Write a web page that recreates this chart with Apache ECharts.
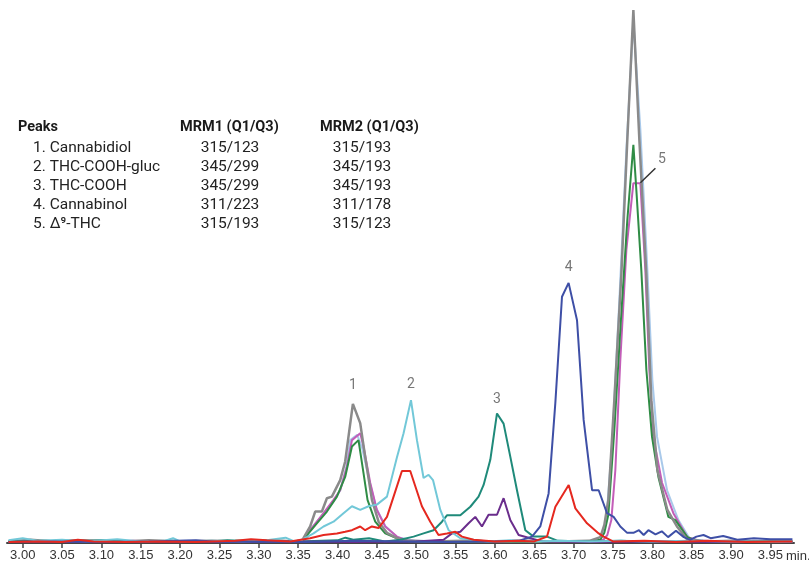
<!DOCTYPE html>
<html>
<head>
<meta charset="utf-8">
<script src="https://cdn.jsdelivr.net/npm/echarts@6/dist/echarts.min.js"></script>
<style>
html,body{margin:0;padding:0;background:#fff;}
#chart{width:809px;height:566px;}
</style>
</head>
<body>
<div id="chart"></div>
<script>
// ---- Data (retention time in min, relative intensity %) ----
const xTicks = [3.00,3.05,3.10,3.15,3.20,3.25,3.30,3.35,3.40,3.45,3.50,3.55,3.60,3.65,3.70,3.75,3.80,3.85,3.90,3.95];
const xUnit = 'min.';

const grayTrace = [[2.982,0.3],[3.01,0.6],[3.04,0.3],[3.07,0.5],[3.10,0.4],[3.13,0.3],[3.16,0.5],[3.20,0.3],[3.24,0.4],[3.28,0.3],[3.32,0.5],[3.345,0.3],
 [3.3547,0.4],[3.3652,3.1],[3.3716,5.9],[3.3801,5.9],[3.3865,8.4],[3.3928,8.7],[3.4034,11.8],[3.4097,15.3],[3.4195,26.1],[3.4288,22.5],[3.4351,16.2],[3.4437,8.1],[3.4521,4.0],[3.4628,1.9],[3.4755,0.9],
 [3.49,0.4],[3.52,0.3],[3.56,0.4],[3.60,0.3],[3.64,0.4],[3.68,0.3],[3.72,0.4],
 [3.7339,1.1],[3.7390,3.4],[3.7441,8.1],[3.7517,26.8],[3.7606,50.3],[3.7682,75.6],[3.7759,100],[3.7835,75.6],[3.7924,50.3],[3.7987,26.8],[3.8064,13.7],[3.8191,6.2],[3.8318,3.0],[3.8445,0.6],
 [3.87,0.3],[3.90,0.4],[3.94,0.3],[3.978,0.3]];

const lightBlueTrace = [[2.982,0.4],[3.02,0.2],[3.06,0.5],[3.11,0.3],[3.15,0.2],[3.21,0.4],[3.26,0.2],[3.31,0.3],[3.345,0.2],
 [3.3551,0.4],[3.3652,2.4],[3.3754,4.3],[3.3843,5.8],[3.3945,7.7],[3.4034,9.9],[3.4110,14.1],[3.4161,19.3],[3.4250,20.3],[3.4313,17.8],[3.4402,11.8],[3.4491,6.6],[3.4606,3.2],[3.4758,1.1],
 [3.50,0.4],[3.55,0.3],[3.60,0.2],[3.66,0.3],[3.71,0.2],
 [3.7339,0.6],[3.7415,4.3],[3.7492,19.3],[3.7581,45.6],[3.7670,73.7],[3.7759,98],[3.7848,77.5],[3.7937,51.2],[3.8000,30.6],[3.8060,19.9],[3.8187,9.9],[3.8331,4.3],[3.8483,0.6],
 [3.88,0.3],[3.93,0.2],[3.978,0.3]];

const pinkTrace = [[2.982,0.2],[3.04,0.3],[3.09,0.2],[3.14,0.4],[3.19,0.2],[3.25,0.3],[3.30,0.2],[3.345,0.3],
 [3.3567,0.6],[3.3652,2.4],[3.3737,4.0],[3.3822,5.6],[3.3949,8.1],[3.4034,9.9],[3.4119,14.3],[3.4183,19.3],[3.4288,20.6],[3.4330,18.1],[3.4415,11.3],[3.4500,6.2],[3.4606,3.1],[3.4755,1.2],
 [3.49,0.4],[3.54,0.3],[3.59,0.2],[3.65,0.3],[3.70,0.2],[3.73,0.3],
 [3.7377,0.6],[3.7428,1.5],[3.7479,4.3],[3.7530,13.7],[3.7593,34.3],[3.7670,55],[3.7759,67.5],[3.7848,67.5],[3.7911,51.2],[3.7962,32.5],[3.8013,19.9],[3.8123,11.3],[3.8267,5.6],[3.8445,1.1],[3.8610,0.4],
 [3.90,0.3],[3.95,0.2],[3.978,0.3]];

const greenTrace = [[2.982,0.3],[3.03,0.2],[3.08,0.4],[3.13,0.2],[3.18,0.3],[3.23,0.2],[3.28,0.4],[3.33,0.2],[3.345,0.3],
 [3.3547,0.2],[3.3631,1.8],[3.3737,3.7],[3.3865,5.9],[3.3992,8.7],[3.4097,12.4],[3.4183,18.1],[3.4266,19.3],[3.4330,13.1],[3.4381,8.1],[3.4479,4.0],[3.4606,1.8],[3.4755,0.9],
 [3.49,0.3],[3.55,0.2],[3.61,0.3],[3.67,0.2],[3.72,0.3],
 [3.7339,0.6],[3.7390,1.9],[3.7441,5.3],[3.7517,21.2],[3.7593,40],[3.7682,60.6],[3.7759,74.7],[3.7797,66.2],[3.7860,51.2],[3.7924,32.5],[3.7996,19.9],[3.8077,12.4],[3.8204,4.9],[3.8293,4.3],[3.8445,1.1],[3.8572,0.4],
 [3.90,0.2],[3.94,0.3],[3.978,0.2]];

const cyanTrace = [[2.982,0.5],[3.00,0.9],[3.02,0.4],[3.05,0.6],[3.08,0.3],[3.12,0.7],[3.15,0.3],[3.18,0.4],[3.191,0.9],[3.20,0.3],[3.24,0.4],[3.28,0.3],[3.31,0.5],[3.334,1.0],[3.345,0.3],
 [3.3547,0.6],[3.3695,1.8],[3.3822,3.1],[3.3949,4.0],[3.4076,5.6],[3.4183,6.9],[3.4288,6.2],[3.4394,6.9],[3.4500,7.2],[3.4628,8.7],[3.4755,16.1],[3.4839,20.6],[3.4933,26.8],[3.5009,19.3],[3.5093,12.2],[3.5157,12.8],[3.5213,11.8],[3.5306,6.2],[3.5411,2.4],[3.5560,0.9],[3.5729,0.6],
 [3.59,0.3],[3.62,0.5],[3.65,0.3],[3.68,0.4],[3.72,0.3],[3.76,0.4],[3.80,0.3],[3.85,0.4],[3.90,0.3],[3.95,0.2],[3.978,0.3]];

const redTrace = [[2.982,0.2],[3.02,0.3],[3.05,0.2],[3.07,0.6],[3.09,0.3],[3.13,0.2],[3.17,0.3],[3.22,0.2],[3.27,0.4],[3.29,0.7],[3.31,0.5],[3.3398,0.3],
 [3.3652,0.9],[3.3822,1.5],[3.3992,1.8],[3.4097,2.1],[3.4183,2.4],[3.4288,3.1],[3.4351,2.4],[3.4437,3.1],[3.4521,2.8],[3.4628,4.9],[3.4712,8.7],[3.4818,13.5],[3.4924,13.5],[3.4987,10.7],[3.5072,6.9],[3.5178,4.0],[3.5283,1.5],[3.5390,1.8],[3.5496,2.1],[3.5581,1.2],[3.5729,0.6],
 [3.60,0.3],[3.63,0.4],[3.65,0.3],
 [3.6662,1.2],[3.6768,6.8],[3.6937,10.9],[3.7022,6.5],[3.7170,3.7],[3.7318,1.8],[3.7381,1.2],
 [3.75,0.3],[3.79,0.4],[3.83,0.2],[3.87,0.4],[3.92,0.2],[3.978,0.3]];

const tealTrace = [[2.982,0.3],[3.03,0.4],[3.06,0.2],[3.10,0.5],[3.14,0.2],[3.19,0.4],[3.23,0.2],[3.26,0.5],[3.30,0.3],[3.35,0.3],[3.40,0.5],[3.41,1.0],[3.42,0.6],[3.44,0.9],[3.46,0.3],
 [3.4797,0.6],[3.4966,1.2],[3.5093,1.8],[3.5220,2.4],[3.5327,4.0],[3.5390,5.2],[3.5560,5.2],[3.5687,6.8],[3.5792,8.7],[3.5856,10.9],[3.5941,15.6],[3.6026,24.3],[3.6110,22.4],[3.6195,16.2],[3.6280,9.9],[3.6386,2.4],[3.6491,1.2],[3.6662,1.2],
 [3.68,0.4],[3.72,0.3],[3.76,0.4],[3.80,0.2],[3.85,0.3],[3.90,0.2],[3.978,0.3]];

const purpleTrace = [[2.982,0.2],[3.05,0.3],[3.12,0.2],[3.20,0.3],[3.27,0.2],[3.35,0.3],[3.42,0.2],[3.50,0.3],
 [3.5347,0.6],[3.5454,1.8],[3.5560,2.1],[3.5665,3.7],[3.5750,4.9],[3.5835,3.1],[3.5919,5.3],[3.6026,5.3],[3.6110,8.4],[3.6195,4.3],[3.6301,1.5],[3.6450,0.9],
 [3.66,0.3],[3.72,0.2],[3.80,0.3],[3.88,0.2],[3.978,0.2]];

const blueTrace = [[2.982,0.2],[3.04,0.3],[3.10,0.2],[3.16,0.3],[3.22,0.5],[3.25,0.2],[3.30,0.3],[3.36,0.2],[3.42,0.4],[3.48,0.3],[3.54,0.2],[3.60,0.3],[3.63,0.4],
 [3.6471,1.2],[3.6576,3.1],[3.6682,9.3],[3.6767,26.2],[3.6852,46.2],[3.6936,48.8],[3.7043,41.8],[3.7127,23.1],[3.7234,9.9],[3.7318,9.9],[3.7424,5.6],[3.7508,4.9],[3.7593,3.1],
 [3.7680,1.9],[3.7760,1.9],[3.7830,2.4],[3.7890,1.5],[3.7950,2.4],[3.8040,1.6],[3.8120,2.2],[3.8200,1.1],[3.8300,2.3],[3.8400,1.1],[3.8480,0.6],[3.8560,1.2],[3.8650,1.5],[3.8740,0.9],[3.8900,1.3],[3.9080,0.6],[3.9290,0.9],[3.9500,0.7],[3.9780,0.7]];

// Peak number labels (position in data units) and leader line for peak 5
const peakLabelText = ['1','2','3','4','5'];
const peakLabelX = [3.4195, 3.4933, 3.6026, 3.6936, 3.8121];
const peakLabelY = [29.6, 29.8, 27.0, 51.6, 71.9];
const leaderLine = [[3.7848,67.6],[3.8039,70.3]];

// Table
const tableHeaders = ['Peaks', 'MRM1 (Q1/Q3)', 'MRM2 (Q1/Q3)'];
const peakNames = ['1. Cannabidiol', '2. THC-COOH-gluc', '3. THC-COOH', '4. Cannabinol', '5. \u0394\u2079-THC'];
const mrm1 = ['315/123', '345/299', '345/299', '311/223', '315/193'];
const mrm2 = ['315/193', '345/193', '345/193', '311/178', '315/123'];

// ---- Build chart ----
const traces = [
  {name:'lightblue', data:lightBlueTrace, color:'#a9c9ea', w:2},
  {name:'pink', data:pinkTrace, color:'#c35db8', w:2},
  {name:'green', data:greenTrace, color:'#2f8c45', w:2},
  {name:'gray', data:grayTrace, color:'#8a8a8a', w:2.5},
  {name:'teal', data:tealTrace, color:'#1f8a7a', w:2},
  {name:'purple', data:purpleTrace, color:'#6a2d8c', w:2},
  {name:'cyan', data:cyanTrace, color:'#72c8d8', w:2},
  {name:'blue', data:blueTrace, color:'#3e4fa6', w:2},
  {name:'red', data:redTrace, color:'#e5281f', w:2}
];

const series = traces.map(t => ({
  name: t.name, type: 'line', data: t.data, showSymbol: false, symbol: 'none',
  smooth: false, lineStyle: {color: t.color, width: t.w}, itemStyle: {color: t.color},
  silent: true, animation: false
}));

series.push({
  name: 'leader', type: 'line', data: leaderLine, symbol: 'none',
  lineStyle: {color: '#333', width: 1.5}, silent: true, animation: false
});

series.push({
  name: 'peakLabels', type: 'scatter', symbolSize: 1,
  itemStyle: {color: 'rgba(0,0,0,0)'},
  data: peakLabelX.map((x, i) => ({value: [x, peakLabelY[i]], label: {formatter: peakLabelText[i]}})),
  label: {show: true, position: 'inside', color: '#555', fontSize: 14, fontFamily: 'Roboto, Liberation Sans, Arial, sans-serif'},
  silent: true, animation: false
});

const axisFont = 'Liberation Sans';
const tableFont = "Roboto, 'Liberation Sans', Arial, sans-serif";
const graphics = [];
const headerX = [18, 180, 320];
tableHeaders.forEach((h, i) => graphics.push({
  type: 'text', x: headerX[i], y: 127,
  style: {text: h, font: 'bold 14.5px ' + tableFont, fill: '#1a1a1a', textVerticalAlign: 'middle'}
}));
const rowY = [148, 167, 186, 205, 224];
peakNames.forEach((n, i) => {
  graphics.push({type:'text', x: 33, y: rowY[i], style:{text:n, font:'15.5px ' + tableFont, fill:'#222', textVerticalAlign:'middle'}});
  graphics.push({type:'text', x: 230, y: rowY[i], style:{text:mrm1[i], font:'15.5px ' + tableFont, fill:'#222', textAlign:'center', textVerticalAlign:'middle'}});
  graphics.push({type:'text', x: 362, y: rowY[i], style:{text:mrm2[i], font:'15.5px ' + tableFont, fill:'#222', textAlign:'center', textVerticalAlign:'middle'}});
});
graphics.push({type:'text', x: 786, y: 556, style:{text: xUnit, font: "13px 'Liberation Sans', Arial, sans-serif", fill:'#333', textVerticalAlign:'middle'}});

const chart = echarts.init(document.getElementById('chart'), null, {renderer: 'canvas'});
chart.setOption({
  animation: false,
  backgroundColor: '#fff',
  grid: {left: 7, right: 15, top: 10, bottom: 23, containLabel: false, outerBoundsMode: 'none'},
  xAxis: {
    type: 'value', min: 2.98, max: 3.98,
    axisLine: {show: true, onZero: false, lineStyle: {color: '#444', width: 2}},
    axisTick: {show: true, length: 5, lineStyle: {color: '#444', width: 1.5}, customValues: xTicks},
    axisLabel: {show: true, margin: 6, color: '#333', fontSize: 13, fontFamily: axisFont,
      customValues: xTicks, formatter: v => v.toFixed(2)},
    splitLine: {show: false}
  },
  yAxis: {
    type: 'value', min: 0, max: 100, show: false, splitLine: {show: false}
  },
  graphic: graphics,
  series: series
});
</script>
</body>
</html>
